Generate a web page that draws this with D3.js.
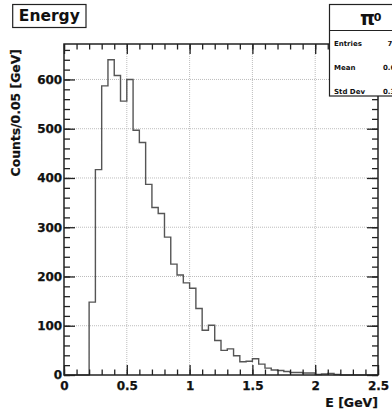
<!DOCTYPE html>
<html><head><meta charset="utf-8">
<script src="https://cdn.jsdelivr.net/npm/d3@7"></script>
<style>
body{margin:0;background:#fff}
svg{display:block}
text{font-family:"DejaVu Sans",sans-serif;font-weight:bold;fill:#111}
</style>
</head><body>
<script>
// ---- data ----
const histTitle = "Energy";
const xTitle = "E [GeV]";
const yTitle = "Counts/0.05 [GeV]";
const xMin = 0, xMax = 2.5, binWidth = 0.05;
const counts = [0,0,0,0,148,417,587,640,608,556,
                600,497,472,387,340,328,280,225,203,187,
                176,135,91,101,70,50,53,39,27,28,
                33,22,14,10,9,7,5,5,4,4,
                1,2,3,1,0,0,0,0,0,0];
const xMajorTicks = [0,0.5,1,1.5,2,2.5];
const xTickLabels = ["0","0.5","1","1.5","2","2.5"];
const yMajorTicks = [0,100,200,300,400,500,600];
const yTickLabels = ["0","100","200","300","400","500","600"];
const statsTitle = "\u03C0";
const statsSup = "0";
const statsLabels = ["Entries","Mean","Std Dev"];

// ---- layout ----
const W = 392, H = 413;
const L = 64, R = 378, T = 44, B = 375;
const svg = d3.select("body").append("svg").attr("width", W).attr("height", H);
svg.append("rect").attr("width", W).attr("height", H).attr("fill", "#fff");

const yMax = 1.05 * d3.max(counts);
const x = d3.scaleLinear().domain([xMin, xMax]).range([L, R]);
const y = d3.scaleLinear().domain([0, yMax]).range([B, T]);

const xMinor = d3.range(0, 26).map(i => i * 0.1).filter(v => v <= xMax + 1e-9);
const yMinor = d3.range(0, 34).map(i => i * 20).filter(v => v <= yMax);

// grid
const grid = svg.append("g").attr("stroke", "#bdbdbd").attr("stroke-width", 1).attr("stroke-dasharray", "1,1");
xMajorTicks.filter(v => v > xMin && v < xMax).forEach(v => {
  grid.append("line").attr("x1", x(v)).attr("x2", x(v)).attr("y1", T).attr("y2", B);
});
yMajorTicks.filter(v => v > 0).forEach(v => {
  grid.append("line").attr("x1", L).attr("x2", R).attr("y1", y(v)).attr("y2", y(v));
});

// histogram
const pts = [[xMin, 0]];
counts.forEach((c, i) => {
  const lo = xMin + i * binWidth, hi = lo + binWidth;
  pts.push([lo, c], [hi, c]);
});
pts.push([xMax, 0]);
svg.append("path")
  .attr("d", d3.line().x(d => x(d[0])).y(d => y(d[1]))(pts))
  .attr("fill", "none").attr("stroke", "#555").attr("stroke-width", 1.4);

// axes
function styleAxis(g) {
  g.select(".domain").remove();
  g.selectAll("line").attr("stroke", "#222").attr("stroke-width", 1.3);
}
function styleLabels(sel) {
  sel.attr("font-size", 12).attr("font-family", "DejaVu Sans").attr("font-weight", "bold")
     .attr("fill", "#111").attr("stroke", "#111").attr("stroke-width", 0.25);
}
svg.append("g").attr("transform", `translate(0,${B})`)
  .call(d3.axisBottom(x).tickValues(xMinor).tickSize(-5.5).tickFormat(""))
  .call(styleAxis);
svg.append("g").attr("transform", `translate(0,${B})`)
  .call(d3.axisBottom(x).tickValues(xMajorTicks).tickSize(-10).tickPadding(6.5)
        .tickFormat((d, i) => xTickLabels[i]))
  .call(styleAxis)
  .selectAll("text").call(styleLabels);
svg.append("g").attr("transform", `translate(0,${T})`)
  .call(d3.axisTop(x).tickValues(xMinor).tickSize(-5.5).tickFormat(""))
  .call(styleAxis);
svg.append("g").attr("transform", `translate(0,${T})`)
  .call(d3.axisTop(x).tickValues(xMajorTicks).tickSize(-10).tickFormat(""))
  .call(styleAxis);

svg.append("g").attr("transform", `translate(${L},0)`)
  .call(d3.axisLeft(y).tickValues(yMinor).tickSize(-6).tickFormat(""))
  .call(styleAxis);
svg.append("g").attr("transform", `translate(${L},0)`)
  .call(d3.axisLeft(y).tickValues(yMajorTicks).tickSize(-11).tickPadding(1.8)
        .tickFormat((d, i) => yTickLabels[i]))
  .call(styleAxis)
  .selectAll("text").call(styleLabels);
svg.append("g").attr("transform", `translate(${R},0)`)
  .call(d3.axisRight(y).tickValues(yMinor).tickSize(-6).tickFormat(""))
  .call(styleAxis);
svg.append("g").attr("transform", `translate(${R},0)`)
  .call(d3.axisRight(y).tickValues(yMajorTicks).tickSize(-11).tickFormat(""))
  .call(styleAxis);

// frame
svg.append("rect").attr("x", L).attr("y", T).attr("width", R - L).attr("height", B - T)
  .attr("fill", "none").attr("stroke", "#222").attr("stroke-width", 1.5);

// axis titles
svg.append("text").attr("x", R).attr("y", 406.5).attr("text-anchor", "end")
  .attr("font-size", 12.5).attr("stroke", "#111").attr("stroke-width", 0.2).text(xTitle);
svg.append("text").attr("transform", "translate(20.3,49) rotate(-90)").attr("text-anchor", "end")
  .attr("font-size", 12.4).attr("stroke", "#111").attr("stroke-width", 0.2).text(yTitle);

// title box
svg.append("rect").attr("x", 12.7).attr("y", 4.5).attr("width", 73.3).attr("height", 23)
  .attr("fill", "#fff").attr("stroke", "#222").attr("stroke-width", 1.2);
svg.append("text").attr("x", 49.3).attr("y", 20.8).attr("text-anchor", "middle")
  .attr("font-size", 15.5).text(histTitle);

// stats box
const N = d3.sum(counts);
const centers = counts.map((c, i) => xMin + (i + 0.5) * binWidth);
const mean = d3.sum(counts.map((c, i) => c * centers[i])) / N;
const sd = Math.sqrt(d3.sum(counts.map((c, i) => c * (centers[i] - mean) ** 2)) / N);
const statsValues = [String(N), mean.toFixed(4), sd.toFixed(4)];

svg.append("rect").attr("x", 329.5).attr("y", 4.5).attr("width", 92).attr("height", 91.5)
  .attr("fill", "#fff").attr("stroke", "#222").attr("stroke-width", 1.2);
svg.append("line").attr("x1", 329.5).attr("x2", 421.5).attr("y1", 30.5).attr("y2", 30.5)
  .attr("stroke", "#222").attr("stroke-width", 1.1);
svg.append("text").attr("x", 360).attr("y", 25).attr("font-size", 19)
  .attr("font-family", "DejaVu Serif").attr("font-weight", "normal").text(statsTitle);
svg.append("text").attr("x", 373.8).attr("y", 21).attr("font-size", 11).text(statsSup);
const rowY = [46, 70.3, 93.7];
const valX = [387.5, 383, 383];
statsLabels.forEach((lab, i) => {
  svg.append("text").attr("x", 334).attr("y", rowY[i]).attr("font-size", 7).text(lab);
  svg.append("text").attr("x", valX[i]).attr("y", rowY[i]).attr("font-size", 7).text(statsValues[i]);
});
</script>
</body></html>
